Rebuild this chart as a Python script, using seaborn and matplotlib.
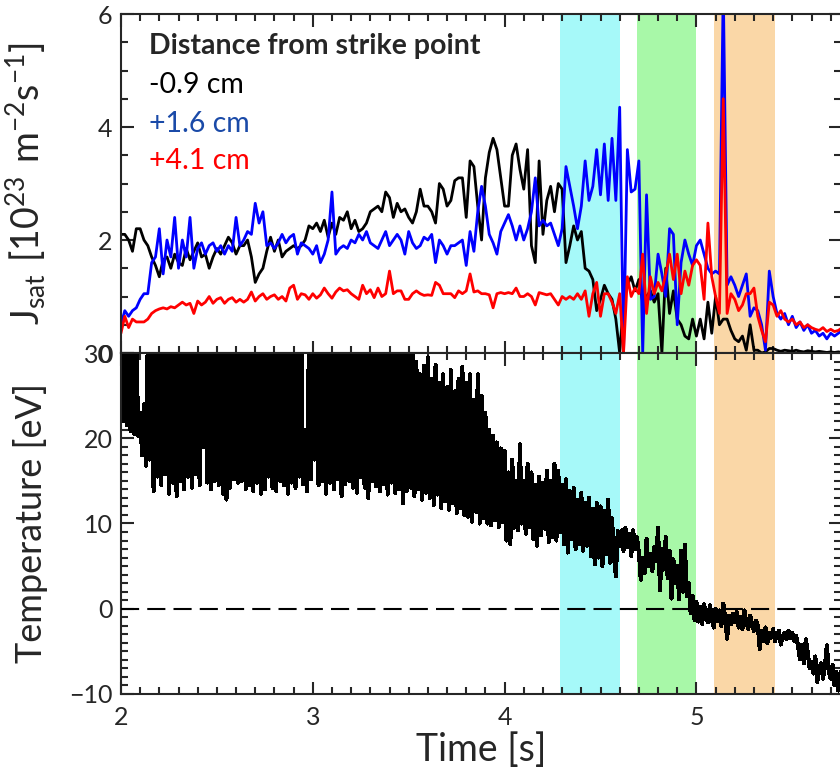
import numpy as np
import pandas as pd
import matplotlib
matplotlib.use('Agg')
import matplotlib.pyplot as plt
from matplotlib.ticker import MultipleLocator
import seaborn as sns

# --- data --------------------------------------------------------------
# ion saturation current, 10^23 m^-2 s^-1, sampled every 0.02 s from 2.00 s
jsat_t0, jsat_dt = 2.0, 0.02
jsat_m09 = [
    2.1, 2.1, 2.0, 1.8, 2.2, 2.2, 2.0, 1.9, 1.7, 1.55,
    1.35, 1.65, 1.7, 1.5, 1.75, 1.6, 1.55, 1.85, 1.65, 1.8,
    1.95, 1.7, 1.75, 1.5, 1.7, 1.85, 1.75, 1.9, 2.05, 1.95,
    1.75, 1.9, 1.9, 2.0, 1.7, 1.25, 1.4, 1.5, 1.8, 2.05,
    1.8, 2.0, 1.7, 1.8, 1.85, 1.9, 1.85, 1.9, 2.0, 2.25,
    2.2, 2.3, 2.15, 2.35, 2.05, 2.3, 2.1, 2.4, 2.35, 2.5,
    2.2, 2.35, 2.15, 2.2, 2.3, 2.5, 2.55, 2.6, 2.5, 2.85,
    2.75, 2.4, 2.65, 2.5, 2.55, 2.4, 2.3, 2.5, 2.9, 2.6,
    2.6, 2.5, 2.3, 3.0, 2.9, 2.6, 2.7, 3.05, 3.1, 3.1,
    2.4, 3.4, 3.3, 2.6, 2.0, 3.1, 3.55, 3.8, 3.6, 3.1,
    2.6, 2.6, 3.5, 3.7, 3.25, 2.9, 3.6, 1.9, 1.6, 3.4,
    2.1, 2.7, 2.95, 2.5, 3.0, 2.9, 1.6, 1.9, 2.25, 2.0,
    2.15, 1.5, 1.45, 1.3, 0.75, 0.95, 1.2, 1.05, 0.95, 0.6,
    0.0, 0.9, 1.2, 1.35, 1.1, 1.3, 0.9, 1.0, 1.1, 0.9,
    1.05, 0.0, 1.5, 0.7, 1.1, 0.6, 0.5, 0.3, 0.25, 0.6,
    0.3, 0.6, 0.25, 0.9, 0.35, 1.0, 0.5, 0.6, 0.6, 0.4,
    0.25, 0.2, 0.3, 0.05, 0.5, 0.05, 0.05, 0.0, 0.02, 0.08,
    0.08, 0.05, 0.03, 0.05, 0.04, 0.03, 0.05, 0.03, 0.02, 0.04,
    0.03, 0.02, 0.03, 0.02, 0.01, 0.02, 0.01, 0.02, 0.01,
]
jsat_p16 = [
    0.5, 0.75, 0.65, 0.75, 0.8, 0.95, 1.05, 1.05, 1.6, 1.7,
    2.2, 1.4, 2.0, 1.7, 2.4, 1.5, 2.0, 1.7, 2.4, 1.5,
    1.85, 1.95, 1.75, 1.9, 1.95, 1.8, 1.9, 1.75, 1.9, 1.8,
    2.4, 1.9, 2.0, 2.15, 2.1, 2.65, 2.3, 2.5, 1.9, 1.95,
    1.85, 1.95, 2.1, 1.95, 2.05, 2.1, 1.75, 1.95, 1.9, 1.85,
    1.75, 1.9, 1.6, 1.75, 2.0, 2.85, 1.75, 1.85, 1.9, 1.85,
    2.0, 1.95, 2.1, 2.0, 2.15, 1.95, 1.9, 1.85, 2.0, 2.15,
    1.9, 2.0, 2.1, 2.0, 1.75, 2.15, 1.95, 1.85, 1.9, 2.05,
    2.0, 2.1, 1.6, 2.0, 1.9, 1.75, 1.9, 1.9, 1.95, 2.0,
    1.55, 2.15, 1.8, 2.5, 2.95, 2.6, 2.1, 1.95, 1.75, 2.15,
    2.3, 2.45, 2.25, 2.0, 2.25, 2.0, 2.2, 2.5, 3.1, 2.25,
    2.35, 2.25, 2.3, 2.1, 1.9, 2.2, 3.3, 2.95, 2.6, 2.2,
    2.6, 3.4, 2.7, 2.95, 3.6, 2.8, 3.7, 2.7, 3.8, 2.7,
    4.35, 0.0, 3.6, 2.85, 2.9, 3.4, 0.0, 2.8, 0.95, 1.0,
    1.75, 1.4, 1.0, 2.2, 2.1, 0.5, 1.6, 2.0, 1.75, 1.55,
    1.9, 2.0, 1.75, 1.5, 1.4, 1.45, 1.4, 6.5, 1.2, 1.35,
    1.2, 1.0, 1.2, 1.4, 0.65, 0.8, 0.75, 0.5, 0.05, 1.45,
    1.0, 0.7, 0.6, 0.7, 0.5, 0.65, 0.45, 0.55, 0.4, 0.5,
    0.35, 0.4, 0.3, 0.35, 0.25, 0.35, 0.3, 0.35, 0.4,
]
jsat_p41 = [
    0.35, 0.65, 0.45, 0.6, 0.55, 0.55, 0.55, 0.6, 0.7, 0.75,
    0.78, 0.8, 0.78, 0.82, 0.8, 0.85, 0.9, 0.85, 0.88, 0.7,
    0.92, 0.85, 0.9, 1.0, 0.88, 0.95, 0.98, 0.88, 0.95, 0.98,
    0.9, 0.95, 0.9, 0.95, 1.08, 0.92, 1.0, 1.05, 0.95, 1.0,
    1.03, 0.95, 1.0, 0.92, 1.15, 1.2, 0.95, 1.05, 1.03, 0.95,
    1.05, 0.97, 1.03, 1.15, 1.05, 0.97, 1.08, 1.15, 1.1, 1.12,
    1.05, 1.0, 0.95, 1.2, 1.05, 1.12, 0.98, 1.15, 1.0, 1.05,
    1.45, 1.05, 1.1, 1.1, 0.95, 0.95, 1.05, 1.1, 1.05, 1.02,
    1.03, 1.02, 1.25, 1.2, 1.05, 1.05, 1.05, 0.98, 1.1, 1.05,
    1.1, 1.4, 1.08, 1.1, 1.05, 1.05, 1.03, 0.8, 1.05, 1.07,
    1.05, 1.07, 1.05, 1.15, 1.0, 1.0, 1.05, 1.0, 0.85, 1.07,
    1.05, 1.03, 1.05, 0.95, 0.85, 1.0, 0.95, 1.0, 0.95, 1.05,
    0.95, 1.1, 0.65, 1.05, 1.25, 0.65, 1.05, 1.05, 0.9, 0.7,
    1.05, 0.0, 1.35, 1.0, 1.15, 1.05, 1.75, 0.7, 1.35, 1.05,
    1.25, 1.1, 1.4, 1.75, 1.3, 1.75, 1.05, 1.45, 1.2, 1.55,
    1.65, 1.55, 0.95, 2.3, 1.35, 1.0, 0.7, 4.5, 0.7, 1.05,
    0.95, 0.75, 0.85, 1.05, 1.05, 1.15, 0.65, 0.4, 0.2, 0.9,
    0.85, 0.65, 0.75, 0.6, 0.55, 0.6, 0.5, 0.55, 0.45, 0.5,
    0.45, 0.42, 0.4, 0.45, 0.38, 0.42, 0.38, 0.4, 0.45,
]
series_names = ['-0.9 cm', '+1.6 cm', '+4.1 cm']
line_colors = ['black', '#0000ff', '#ff0000']
text_colors = ['black', '#1a4aa8', '#ff0000']

# probe temperature, eV, sampled every 0.01 s from 2.00 s
temp_t0, temp_dt = 2.0, 0.01
temp_ev = [
    26, 22, 33, 21.5, 32, 20.8, 33, 20.5, 32, 20.3,
    23, 18, 24, 16.8, 32, 17.5, 33, 13.8, 32, 15.5,
    33, 14.5, 32, 15.8, 33, 13.5, 32, 14.8, 33, 13.2,
    32, 15, 33, 14, 32, 15.5, 33, 14.2, 32, 15.8,
    33, 14.5, 32, 19, 33, 14.8, 32, 14, 33, 15,
    32, 14.5, 33, 13.5, 32, 12.8, 33, 14.2, 32, 15.2,
    33, 14.8, 32, 15, 33, 14, 32, 14.5, 33, 13.8,
    32, 14.8, 33, 13.5, 32, 14, 33, 15.5, 32, 14.2,
    33, 13.8, 32, 15, 33, 14.5, 32, 13.5, 33, 14.8,
    32, 14.2, 33, 15.5, 32, 14.6, 21, 13.8, 32, 15.2,
    33, 17.5, 32, 14.5, 33, 15, 32, 13.5, 33, 14.8,
    32, 14, 33, 15.2, 32, 13.2, 33, 14.6, 32, 15,
    33, 14.2, 32, 13.6, 33, 15.4, 32, 14.2, 33, 13,
    32, 15, 33, 14.4, 32, 13.8, 33, 14.6, 32, 13.4,
    33, 14.8, 32, 13.6, 33, 14, 32, 12.4, 33, 13.8,
    32, 14.2, 33, 13.2, 29, 14, 27.5, 12.8, 28.5, 13.6,
    29.5, 13, 27, 12.2, 28.6, 13.4, 26.5, 11.8, 27.5, 12.6,
    26, 11.6, 28, 12.4, 25.5, 11.2, 27, 11.8, 28.4, 11,
    26.5, 10.8, 27.5, 10.2, 24.5, 11.4, 27.5, 10, 25, 10.6,
    23, 10, 21, 9.8, 20.3, 10.4, 19.5, 9.6, 18.8, 10.2,
    18.5, 8, 16, 7.6, 17.5, 9.5, 15, 9.2, 19.3, 10,
    15, 8.8, 17, 9.6, 16, 8.2, 14.5, 7.4, 15.5, 8.6,
    14.8, 9.4, 16.2, 7.8, 15, 8.4, 17, 8, 16.2, 9,
    14.5, 7.6, 15.2, 6.6, 13.8, 8.2, 14.2, 7, 12.8, 7.6,
    13.6, 6.8, 12.4, 7.4, 13, 6.2, 11.7, 5.2, 12.4, 6,
    12, 5, 11.5, 6.4, 12.8, 5.4, 10.6, 6.2, 3.8, 9.1,
    7.4, 9.2, 6.8, 9.5, 7.2, 8.8, 6.2, 9.2, 7, 8.4,
    6.6, 3.4, 6, 4.2, 8.2, 5, 6.4, 4.4, 7.2, 5.6,
    9.5, 2.2, 7, 4.6, 8.4, 3.6, 6.8, 1.2, 5.8, 3,
    5, 1.1, 6.8, 2, 7.5, 1.5, 3, -0.5, 1.5, -1.3,
    0.8, -1.5, 0.2, -1.8, 0.5, -0.8, -1.6, 0.4, -1.2, -2.2,
    0, -1.4, -0.2, -2, 0.6, -1, -3.5, -0.8, -1.8, -0.6,
    -1.6, -0.4, -2.2, -1, -2.4, -0.2, -1.6, -2.4, -0.8, -1.8,
    -2.6, -1.4, -2, -4.7, -2.6, -3.8, -2.2, -4, -2.8, -3.4,
    -2.4, -3.8, -3, -2.6, -4.2, -3.2, -2.8, -3.6, -2.6, -3.4,
    -2.8, -3.8, -3.2, -4.4, -5.9, -4.2, -6.4, -3.6, -5, -7,
    -6.2, -7.6, -5.6, -8.6, -7, -6.4, -8.2, -6.8, -4.3, -7.4,
    -8.2, -6.6, -9, -7.4, -9.6, -7.8, -6.8,
]

# highlighted time windows (s)
windows = [(4.29, 4.60), (4.69, 5.00), (5.09, 5.41)]
window_colors = ['#a6f9f9', '#a8f8a8', '#fad7a7']

# --- frames ------------------------------------------------------------
jsat_time = jsat_t0 + jsat_dt * np.arange(len(jsat_m09))
df_jsat = pd.DataFrame({'time': jsat_time, series_names[0]: jsat_m09,
                        series_names[1]: jsat_p16, series_names[2]: jsat_p41})
df_jsat = df_jsat.melt(id_vars='time', var_name='probe', value_name='jsat')

temp_time = temp_t0 + temp_dt * np.arange(len(temp_ev))
df_temp = pd.DataFrame({'time': temp_time, 'temp': temp_ev})

# --- style -------------------------------------------------------------
sns.set_style('ticks')
plt.rcParams['font.family'] = ['Lato', 'DejaVu Sans']
plt.rcParams['mathtext.fontset'] = 'custom'
plt.rcParams['mathtext.rm'] = 'Lato'
plt.rcParams['axes.linewidth'] = 1.5

fig = plt.figure(figsize=(8.4, 7.74), dpi=100)
ax_top = fig.add_axes([0.144, 0.5439, 0.8577, 0.4380])
ax_bot = fig.add_axes([0.144, 0.1034, 0.8577, 0.4405])

for ax in (ax_top, ax_bot):
    for (t0, t1), c in zip(windows, window_colors):
        ax.axvspan(t0, t1, color=c, lw=0, zorder=0)

sns.lineplot(data=df_jsat, x='time', y='jsat', hue='probe',
             hue_order=series_names, palette=line_colors,
             estimator=None, sort=False, lw=2.0, legend=False, ax=ax_top)
# dense trace: drawn without antialiasing so the fast swings fill solid
sns.lineplot(data=df_temp, x='time', y='temp', color='black',
             estimator=None, sort=False, lw=2.2, antialiased=False, ax=ax_bot)
ax_bot.axhline(0, color='black', lw=1.5, ls=(0, (8.7, 3.9)), zorder=3)

xmax = 5.756
ax_top.set_xlim(2, xmax)
ax_bot.set_xlim(2, xmax)
ax_top.set_ylim(0, 6)
ax_bot.set_ylim(-10, 30)

ax_top.xaxis.set_major_locator(MultipleLocator(1))
ax_top.xaxis.set_minor_locator(MultipleLocator(0.1))
ax_top.yaxis.set_major_locator(MultipleLocator(2))
ax_top.yaxis.set_minor_locator(MultipleLocator(0.5))
ax_bot.xaxis.set_major_locator(MultipleLocator(1))
ax_bot.xaxis.set_minor_locator(MultipleLocator(0.1))
ax_bot.yaxis.set_major_locator(MultipleLocator(10))
ax_bot.yaxis.set_minor_locator(MultipleLocator(1))

for ax in (ax_top, ax_bot):
    ax.tick_params(which='both', direction='in', top=True, right=True,
                   width=1.5, labelsize=18, pad=6)
    ax.tick_params(which='major', length=9)
    ax.tick_params(which='minor', length=5)
    for s in ax.spines.values():
        s.set_linewidth(1.5)
ax_top.tick_params(axis='x', labelbottom=False)
ax_bot.tick_params(axis='x', pad=9)

ax_top.set_xlabel('')
ax_top.set_ylabel(r'$\mathregular{J_{sat}\ [10^{23}\ m^{-2}s^{-1}]}$', fontsize=27)
ax_bot.set_ylabel('Temperature [eV]', fontsize=26)
ax_bot.set_xlabel('Time [s]', fontsize=27, labelpad=2)
ax_top.yaxis.set_label_coords(-0.101, 0.5)
ax_bot.yaxis.set_label_coords(-0.101, 0.5)

# legend block written as text
ax_top.text(0.039, 0.906, 'Distance from strike point', transform=ax_top.transAxes,
            fontsize=20.5, fontweight='bold', va='center', ha='left')
for name, c, y in zip(series_names, text_colors, [0.79, 0.676, 0.566]):
    ax_top.text(0.039, y, name, transform=ax_top.transAxes, fontsize=20.5,
                color=c, va='center', ha='left')

fig.savefig('out.png', dpi=100)
